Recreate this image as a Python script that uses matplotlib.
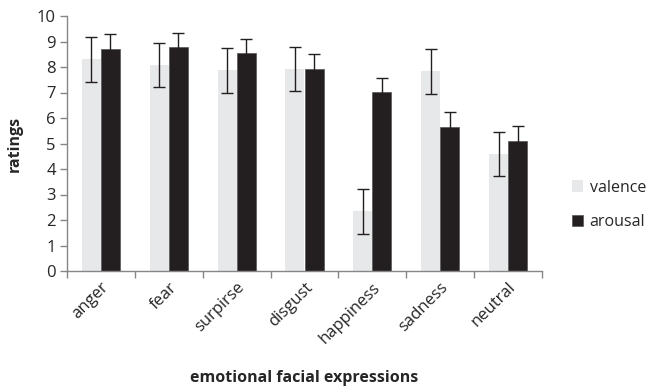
import matplotlib
matplotlib.use("Agg")
import matplotlib.pyplot as plt
import numpy as np

categories = ["anger", "fear", "surpirse", "disgust", "happiness", "sadness", "neutral"]
valence = [8.31, 8.09, 7.87, 7.92, 2.34, 7.84, 4.58]
valence_err = [0.88, 0.87, 0.87, 0.88, 0.87, 0.88, 0.87]
arousal = [8.69, 8.77, 8.55, 7.94, 7.01, 5.66, 5.10]
arousal_err = [0.59, 0.58, 0.56, 0.58, 0.57, 0.57, 0.57]
yticks = list(range(0, 11))

plt.rcParams['font.family'] = ['Open Sans', 'DejaVu Sans']

fig = plt.figure(figsize=(6.46, 3.86), dpi=100)
ax = fig.add_axes([67/646, 1-271/386, (542-67)/646, (271-16)/386])

x = np.arange(len(categories))
w = 0.28
ax.bar(x - w/2, valence, w, color="#E7E8E9", label="valence", zorder=2)
ax.bar(x + w/2, arousal, w, color="#231F20", edgecolor="#555555", linewidth=0.5, label="arousal", zorder=2)
ax.errorbar(x - w/2, valence, yerr=valence_err, fmt="none", ecolor="#231F20", elinewidth=1, capsize=4, capthick=1, zorder=3)
ax.errorbar(x + w/2, arousal, yerr=arousal_err, fmt="none", ecolor="#231F20", elinewidth=1, capsize=4, capthick=1, zorder=3)

fs = 11.5
ax.set_xlim(-0.5, len(categories) - 0.5)
ax.set_ylim(0, 10)
ax.set_yticks(yticks)
ax.set_yticklabels([str(t) for t in yticks], fontsize=12, color="#262626")
ax.set_xticks(x)
ax.set_xticklabels(categories, rotation=45, ha="right", rotation_mode="anchor", fontsize=12, color="#262626")
ax.tick_params(axis="x", which="major", length=0, pad=6)
ax.set_xticks(np.arange(-0.5, len(categories), 1.0), minor=True)
ax.tick_params(axis="x", which="minor", length=5, color="#868686", width=1)
ax.tick_params(axis="y", length=5, color="#868686", width=1, pad=3)

for s in ["top", "right"]:
    ax.spines[s].set_visible(False)
for s in ["left", "bottom"]:
    ax.spines[s].set_color("#868686")
    ax.spines[s].set_linewidth(1)

ax.set_ylabel("ratings", fontsize=fs, fontweight="bold", color="#262626", labelpad=10)
ax.set_xlabel("emotional facial expressions", fontsize=fs, fontweight="bold", color="#262626", labelpad=17)

leg = ax.legend(loc="center left", bbox_to_anchor=(1.05, 0.26), frameon=False, fontsize=fs,
                handlelength=0.7, handleheight=0.7, handletextpad=0.4, labelspacing=1.15,
                borderaxespad=0)
for t in leg.get_texts():
    t.set_color("#262626")

fig.savefig("out.png", dpi=100)
